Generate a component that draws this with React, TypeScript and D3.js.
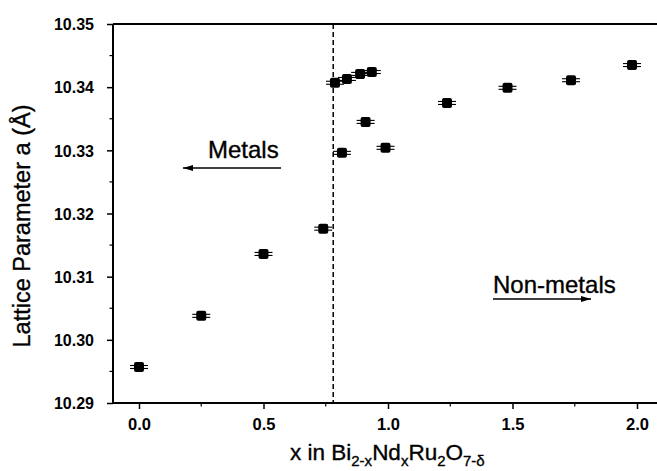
import React, { useEffect, useRef } from "react";
import * as d3 from "d3";

// composition x and lattice parameter a (Å)
const xValues = [0.0, 0.25, 0.5, 0.74, 0.787, 0.815, 0.835, 0.888, 0.91, 0.935, 0.99, 1.237, 1.48, 1.735, 1.98];
const aValues = [10.2957, 10.3038, 10.3136, 10.3176, 10.3407, 10.3296, 10.3413, 10.3421, 10.3345, 10.3424, 10.3304, 10.3375, 10.3399, 10.3411, 10.3435];
const xTicks = [0.0, 0.5, 1.0, 1.5, 2.0];
const yTicks = [10.29, 10.3, 10.31, 10.32, 10.33, 10.34, 10.35];
const boundaryX = 0.78;

const App = () => {
  const ref = useRef<SVGSVGElement>(null);

  useEffect(() => {
    const svg = d3.select(ref.current);
    svg.selectAll("*").remove();

    const width = 657;
    const height = 471;
    const margin = { top: 24, right: 0, bottom: 68, left: 113 };

    const xScale = d3.scaleLinear().domain([0, 2]).range([139, 637]);
    const yScale = d3.scaleLinear().domain([10.29, 10.35]).range([height - margin.bottom, margin.top]);
    const x0 = margin.left;
    const x1 = width - margin.right;
    const yBottom = height - margin.bottom;

    const font = "'Liberation Sans', Arial, sans-serif";

    const defs = svg.append("defs");
    defs.append("marker").attr("id", "arrow").attr("viewBox", "0 0 10 6")
      .attr("refX", 10).attr("refY", 3).attr("markerWidth", 11).attr("markerHeight", 6)
      .attr("markerUnits", "userSpaceOnUse").attr("orient", "auto")
      .append("path").attr("d", "M0,0 L10,3 L0,6 Z").attr("fill", "#000");

    // x axis
    const xAxis = d3.axisBottom(xScale).tickValues(xTicks).tickFormat(d3.format(".1f")).tickSize(6).tickSizeOuter(0);
    const gx = svg.append("g").attr("transform", `translate(0,${yBottom})`).call(xAxis);
    gx.select(".domain").attr("d", `M${x0},0H${x1}`).attr("stroke-width", 2);
    gx.selectAll(".tick line").attr("stroke-width", 1.5);
    gx.selectAll("text").attr("font-family", font).attr("font-size", 16.5).attr("font-weight", "bold")
      .attr("y", 27).attr("dy", 0);
    const xMinor = d3.range(0.25, 2.1, 0.5);
    svg.append("g").selectAll("line").data(xMinor).join("line")
      .attr("x1", d => xScale(d)).attr("x2", d => xScale(d))
      .attr("y1", yBottom).attr("y2", yBottom + 3.5).attr("stroke", "#000").attr("stroke-width", 1.2);

    // y axis
    const yAxis = d3.axisLeft(yScale).tickValues(yTicks).tickFormat(d3.format(".2f")).tickSize(6).tickSizeOuter(0);
    const gy = svg.append("g").attr("transform", `translate(${x0},0)`).call(yAxis);
    gy.select(".domain").attr("d", `M0,${yBottom}V${margin.top}`).attr("stroke-width", 2);
    gy.selectAll(".tick line").attr("stroke-width", 1.5);
    gy.selectAll("text").attr("font-family", font).attr("font-size", 16).attr("font-weight", "bold")
      .attr("x", -19).attr("dy", "0.36em");
    const yMinor = d3.range(10.295, 10.35, 0.01);
    svg.append("g").selectAll("line").data(yMinor).join("line")
      .attr("x1", x0 - 3.5).attr("x2", x0)
      .attr("y1", d => yScale(d)).attr("y2", d => yScale(d)).attr("stroke", "#000").attr("stroke-width", 1.2);

    // top frame line
    svg.append("line").attr("x1", x0).attr("x2", x1).attr("y1", margin.top).attr("y2", margin.top)
      .attr("stroke", "#000").attr("stroke-width", 2);

    // boundary
    svg.append("line").attr("x1", xScale(boundaryX)).attr("x2", xScale(boundaryX))
      .attr("y1", margin.top).attr("y2", yBottom)
      .attr("stroke", "#000").attr("stroke-width", 1.5).attr("stroke-dasharray", "5,3");

    // points with error bars
    const data = xValues.map((x, i) => ({ x, a: aValues[i] }));
    const pts = svg.append("g").selectAll("g").data(data).join("g")
      .attr("transform", d => `translate(${xScale(d.x)},${yScale(d.a)})`);
    pts.append("line").attr("x1", -9).attr("x2", 9).attr("y1", -1.5).attr("y2", -1.5).attr("stroke", "#000").attr("stroke-width", 1.1);
    pts.append("line").attr("x1", -9).attr("x2", 9).attr("y1", 1.5).attr("y2", 1.5).attr("stroke", "#000").attr("stroke-width", 1.1);
    pts.append("rect").attr("x", -5).attr("y", -5).attr("width", 10).attr("height", 10).attr("rx", 2).attr("fill", "#000");

    const heavy = (s: any) => s.attr("stroke", "#000").attr("stroke-width", 0.35);

    // annotations
    svg.append("text").attr("x", 208).attr("y", 158).attr("font-family", font).attr("font-size", 24)
      .call(heavy).text("Metals");
    svg.append("line").attr("x1", 281).attr("x2", 183).attr("y1", 168).attr("y2", 168)
      .attr("stroke", "#000").attr("stroke-width", 1.5).attr("marker-end", "url(#arrow)");

    svg.append("text").attr("x", 493).attr("y", 293).attr("font-family", font).attr("font-size", 24)
      .call(heavy).text("Non-metals");
    svg.append("line").attr("x1", 493).attr("x2", 591).attr("y1", 299).attr("y2", 299)
      .attr("stroke", "#000").attr("stroke-width", 1.5).attr("marker-end", "url(#arrow)");

    // axis titles
    svg.append("text").attr("transform", `translate(30,226) rotate(-90)`)
      .attr("text-anchor", "middle").attr("font-family", font).attr("font-size", 23.5)
      .call(heavy).text("Lattice Parameter a (Å)");

    const xl = svg.append("text").attr("x", 290).attr("y", 460)
      .attr("font-family", font).attr("font-size", 22.5).call(heavy);
    const parts: [string, boolean][] = [["x in Bi", false], ["2-x", true], ["Nd", false], ["x", true], ["Ru", false], ["2", true], ["O", false], ["7-δ", true]];
    parts.forEach(([t, sub], i) => {
      const ts = xl.append("tspan").text(t);
      if (sub) ts.attr("font-size", 15).attr("dy", 6);
      else if (i > 0) ts.attr("dy", -6);
    });
  }, []);

  return (
    <svg ref={ref} width={657} height={471} style={{ position: "absolute", left: 0, top: 0, background: "#fff" }} />
  );
};

export default App;
